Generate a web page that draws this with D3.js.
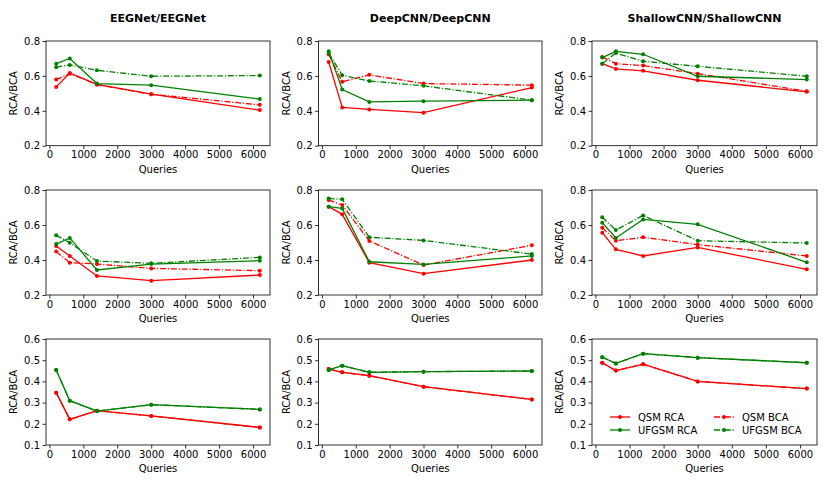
<!DOCTYPE html>
<html><head><meta charset="utf-8">
<script src="https://cdn.jsdelivr.net/npm/d3@7"></script>
<style>body{margin:0;background:#fff}svg{display:block}text{font-family:"DejaVu Sans",sans-serif;fill:#000}</style>
</head><body><svg id="c" width="830" height="485"></svg>
<script>
const queries = [200, 600, 1400, 3000, 6200];
const modelTitles = ["EEGNet/EEGNet", "DeepCNN/DeepCNN", "ShallowCNN/ShallowCNN"];
const xTicks = [0, 1000, 2000, 3000, 4000, 5000, 6000];
const yTicksTop = [0.2, 0.4, 0.6, 0.8];
const yTicksBottom = [0.1, 0.2, 0.3, 0.4, 0.5, 0.6];
const seriesNames = ["QSM RCA", "QSM BCA", "UFGSM RCA", "UFGSM BCA"];

// row 1
const r1_eeg = [[0.537,0.617,0.552,0.495,0.404],[0.579,0.613,0.550,0.495,0.434],[0.670,0.700,0.556,0.547,0.467],[0.650,0.663,0.632,0.598,0.602]];
const r1_deep = [[0.680,0.419,0.408,0.389,0.533],[0.724,0.566,0.606,0.556,0.547],[0.741,0.522,0.451,0.455,0.461],[0.731,0.604,0.571,0.543,0.461]];
const r1_shallow = [[0.670,0.640,0.629,0.575,0.509],[0.709,0.670,0.659,0.613,0.512],[0.705,0.741,0.724,0.598,0.579],[0.670,0.731,0.684,0.655,0.598]];
// row 2
const r2_eeg = [[0.480,0.423,0.309,0.282,0.314],[0.448,0.385,0.377,0.352,0.339],[0.491,0.526,0.343,0.377,0.396],[0.541,0.499,0.394,0.381,0.415]];
const r2_deep = [[0.705,0.661,0.385,0.322,0.400],[0.743,0.714,0.509,0.371,0.484],[0.705,0.695,0.390,0.375,0.423],[0.752,0.747,0.530,0.512,0.434]];
const r2_shallow = [[0.556,0.461,0.423,0.472,0.347],[0.585,0.510,0.530,0.488,0.423],[0.613,0.526,0.632,0.604,0.387],[0.644,0.571,0.655,0.510,0.497]];
// row 3 (BCA equals RCA)
const r3_eeg = [[0.347,0.221,0.262,0.237,0.183],[0.347,0.221,0.262,0.237,0.183],[0.454,0.309,0.260,0.290,0.268],[0.454,0.309,0.260,0.290,0.268]];
const r3_deep = [[0.458,0.443,0.427,0.375,0.315],[0.458,0.443,0.427,0.375,0.315],[0.454,0.474,0.443,0.446,0.449],[0.454,0.474,0.443,0.446,0.449]];
const r3_shallow = [[0.488,0.451,0.481,0.400,0.366],[0.488,0.451,0.481,0.400,0.366],[0.514,0.485,0.531,0.512,0.488],[0.514,0.485,0.531,0.512,0.488]];

const rowsData = [[r1_eeg,r1_deep,r1_shallow],[r2_eeg,r2_deep,r2_shallow],[r3_eeg,r3_deep,r3_shallow]];
const rowYDomain = [[0.2,0.8],[0.2,0.8],[0.1,0.6]];
const rowYTicks = [yTicksTop, yTicksTop, yTicksBottom];

const colors = ["#ff0000","#ff0000","#008000","#008000"];
const dashes = [null, "6,1.8,1.2,1.8", null, "6,1.8,1.2,1.8"];

const colX = [[46,270],[318.5,542],[592,817]];
const rowY = [[41,145.7],[190,295],[339,445]];

const svg = d3.select("#c");
const fmtY = d => d.toFixed(1);

modelTitles.forEach((t,ci)=>{
  svg.append("text").attr("x",(colX[ci][0]+colX[ci][1])/2).attr("y",22)
    .attr("text-anchor","middle").attr("font-size","11px").attr("font-weight","bold").text(t);
});

rowsData.forEach((row,ri)=>{
  row.forEach((data,ci)=>{
    const x = d3.scaleLinear().domain([-100,6500]).range(colX[ci]);
    const y = d3.scaleLinear().domain(rowYDomain[ri]).range([rowY[ri][1],rowY[ri][0]]);
    const g = svg.append("g");
    const xa = g.append("g").attr("transform",`translate(0,${rowY[ri][1]})`)
      .call(d3.axisBottom(x).tickValues(xTicks).tickSize(3.5).tickPadding(2).tickFormat(d3.format("d")));
    const ya = g.append("g").attr("transform",`translate(${colX[ci][0]},0)`)
      .call(d3.axisLeft(y).tickValues(rowYTicks[ri]).tickSize(3.5).tickPadding(2.5).tickFormat(fmtY));
    [xa,ya].forEach(a=>{a.select(".domain").remove();a.selectAll("text").attr("font-size","10px").style("font-family","DejaVu Sans").attr("fill","#000");a.selectAll("line").attr("stroke","#000").attr("stroke-width",0.8);});
    g.append("rect").attr("x",colX[ci][0]).attr("y",rowY[ri][0])
      .attr("width",colX[ci][1]-colX[ci][0]).attr("height",rowY[ri][1]-rowY[ri][0])
      .attr("fill","none").attr("stroke","#000").attr("stroke-width",0.8);
    g.append("text").attr("x",(colX[ci][0]+colX[ci][1])/2).attr("y",rowY[ri][1]+27)
      .attr("text-anchor","middle").attr("font-size","10px").text("Queries");
    const ym = (rowY[ri][0]+rowY[ri][1])/2;
    g.append("text").attr("transform",`translate(${colX[ci][0]-29},${ym}) rotate(-90)`)
      .attr("text-anchor","middle").attr("font-size","10px").text("RCA/BCA");
    const line = d3.line().x((d,i)=>x(queries[i])).y(d=>y(d));
    // draw in order: QSM RCA, QSM BCA, UFGSM RCA, UFGSM BCA
    data.forEach((vals,si)=>{
      g.append("path").datum(vals).attr("d",line).attr("fill","none")
        .attr("stroke",colors[si]).attr("stroke-width",1.3)
        .attr("stroke-dasharray",dashes[si]);
      g.selectAll(null).data(vals).enter().append("circle")
        .attr("cx",(d,i)=>x(queries[i])).attr("cy",d=>y(d)).attr("r",2)
        .attr("fill",colors[si]);
    });
  });
});

// legend in last panel
const lg = svg.append("g");
const legPos = [[610,417],[714,417],[610,430],[714,430]];
seriesNames.forEach((n,i)=>{
  const [lx,ly] = legPos[i];
  lg.append("line").attr("x1",lx).attr("x2",lx+20).attr("y1",ly).attr("y2",ly)
    .attr("stroke",colors[i]).attr("stroke-width",1.3).attr("stroke-dasharray",dashes[i]);
  lg.append("circle").attr("cx",lx+10).attr("cy",ly).attr("r",2).attr("fill",colors[i]);
  lg.append("text").attr("x",lx+28).attr("y",ly+3.5).attr("font-size","10px").text(n);
});
</script></body></html>
